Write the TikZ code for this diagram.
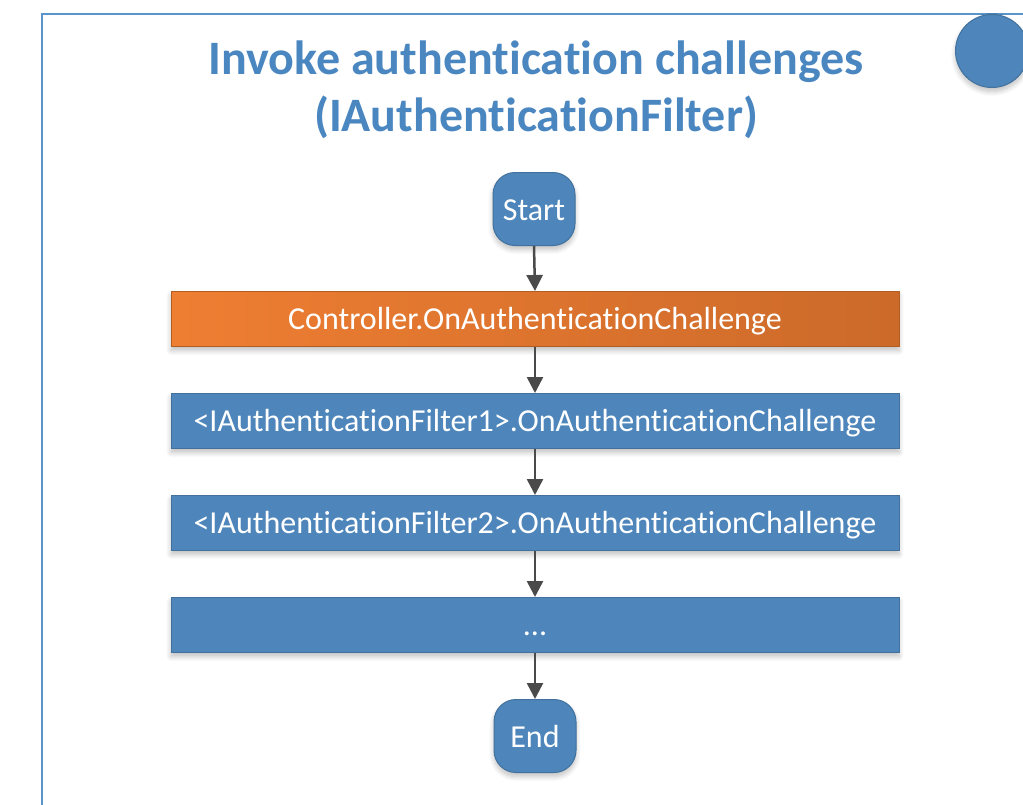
\documentclass[tikz,border=0pt]{standalone}
\usepackage{fontspec}
\setmainfont[Ligatures={NoCommon,NoRequired,NoContextual,NoRare},Contextuals=NoAlternate]{Carlito}
\usetikzlibrary{arrows.meta,shadows.blur}
\definecolor{bfill}{HTML}{4E86BB}
\definecolor{bdraw}{HTML}{41719C}
\definecolor{oleft}{HTML}{EE7E32}
\definecolor{oright}{HTML}{CC6A2A}
\definecolor{odraw}{HTML}{B05E24}
\definecolor{frame}{HTML}{5B93CB}
\definecolor{titlec}{HTML}{4A86C0}
\definecolor{arr}{HTML}{4A4A4A}
\tikzset{
  x=1pt, y=-1pt,
  shd/.style={blur shadow={shadow xshift=0pt, shadow yshift=-4pt, shadow blur steps=8, shadow opacity=25, shadow blur radius=5pt}},
  stepbox/.style={draw=bdraw, line width=1pt, fill=bfill, minimum width=728pt, minimum height=55pt, inner sep=0pt, text height=23pt, text depth=3pt, text=white, font=\fontsize{32}{38}\selectfont, shd},
  orangebox/.style={stepbox, draw=odraw, fill=none, left color=oleft, right color=oright},
  term/.style={draw=bdraw, line width=1pt, fill=bfill, rounded corners=22pt, minimum width=82pt, minimum height=73pt, inner sep=0pt, text height=22pt, text depth=0pt, text=white, font=\fontsize{32}{38}\selectfont, shd},
  flow/.style={draw=arr, line width=2.5pt, -{Triangle[width=16pt,length=16pt]}, shorten >=0pt}
}
\begin{document}
\begin{tikzpicture}
\useasboundingbox (0,0) rectangle (1023,804);
\clip (0,0) rectangle (1023,804);
\draw[frame, line width=2pt] (42,830) -- (42,14) -- (1040,14);
\node[circle, draw=bdraw, line width=1pt, fill=bfill, minimum size=73pt, inner sep=0pt, shd] (circ) at (992,51) {};
\node[text=titlec, font=\bfseries\fontsize{48}{57}\selectfont, align=center] (title) at (536,90) {Invoke authentication challenges\\(IAuthenticationFilter)};
\node[term] (start) at (534,209) {Start};
\node[orangebox] (ctrl) at (535,319) {Controller.OnAuthenticationChallenge};
\node[stepbox] (f1) at (535,421) {<IAuthenticationFilter1>.OnAuthenticationChallenge};
\node[stepbox] (f2) at (535,523) {<IAuthenticationFilter2>.OnAuthenticationChallenge};
\node[stepbox] (dots) at (535,625) {...};
\node[term] (end) at (535,736) {End};
\draw[flow] (start.south) -- (ctrl.north);
\draw[flow] (ctrl.south) -- (f1.north);
\draw[flow] (f1.south) -- (f2.north);
\draw[flow] (f2.south) -- (dots.north);
\draw[flow] (dots.south) -- (end.north);
\end{tikzpicture}
\end{document}
